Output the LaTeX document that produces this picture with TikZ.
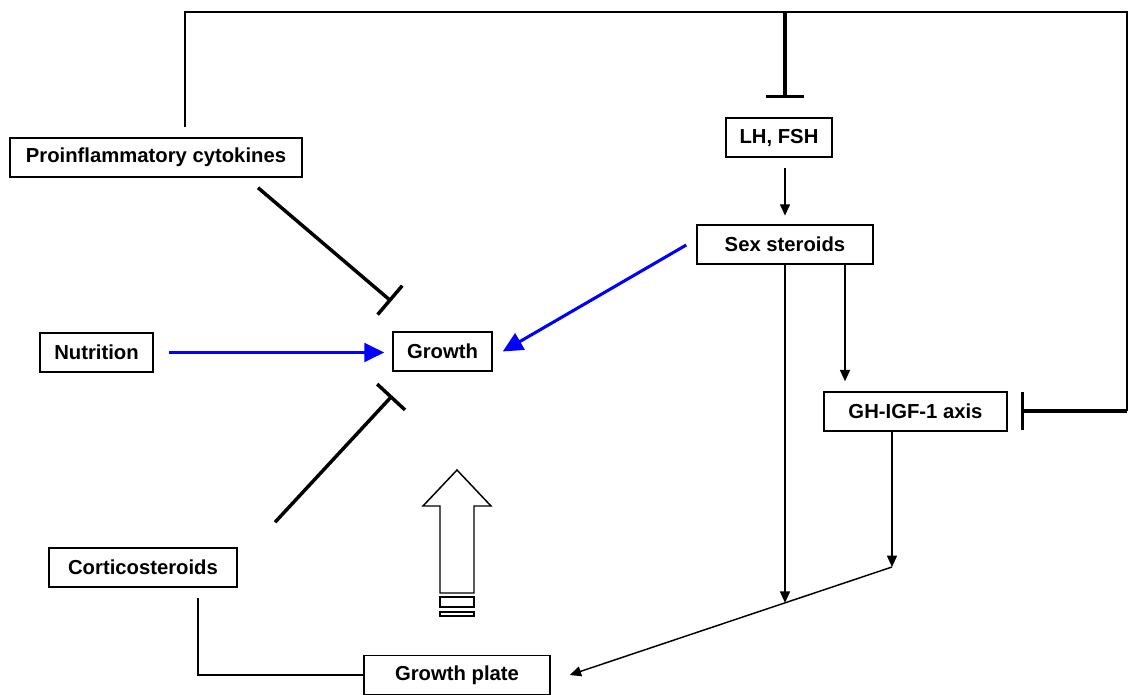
\documentclass[tikz,border=0pt]{standalone}
\usepackage{fontspec}
\setmainfont{Liberation Sans}
\usepackage{tikz}
\usetikzlibrary{shapes,arrows,arrows.meta,positioning,calc}
\usepackage{xcolor}
\definecolor{pureblue}{RGB}{0,0,255}
\tikzset{
    boxnode/.style={
        rectangle,
        draw,
        line width=1.1pt,
        minimum height=29.25pt,
        inner sep=2pt,
        font=\fontsize{15.2}{18}\selectfont\bfseries,
        text centered
    },
    signal/.style={
        line width=1.1pt,
        -{Triangle[length=8.5pt,width=7.5pt]}
    },
    plainline/.style={
        line width=1.1pt
    },
    inhibit/.style={
        line width=2.6pt,
        -{Bar[width=28.5pt]}
    },
    promote/.style={
        pureblue,
        line width=2.3pt,
        -{Triangle[length=15pt,width=14pt]}
    }
}
\begin{document}
\begin{tikzpicture}[x=0.75pt,y=-0.75pt]
    \useasboundingbox (0,0) rectangle (1132,695);
    % Boxes
    \node[boxnode,minimum width=219pt] (cyto) at (156,157.5) {Proinflammatory cytokines};
    \node[boxnode,minimum width=79.5pt] (lhfsh) at (779,137.5) {LH, FSH};
    \node[boxnode,minimum width=132pt] (sex) at (785,244.5) {Sex steroids};
    \node[boxnode,minimum width=84.75pt] (nutr) at (96.5,352.5) {Nutrition};
    \node[boxnode,minimum width=74.25pt] (growth) at (442.5,351.5) {Growth};
    \node[boxnode,minimum width=137.25pt] (ghigf) at (915.5,411.5) {GH-IGF-1 axis};
    \node[boxnode,minimum width=141pt] (cort) at (143,567.5) {Corticosteroids};
    \node[boxnode,minimum width=139.5pt] (plate) at (457,675) {Growth plate};

    % Feedback loop over the top
    \coordinate (topleft) at (185,12);
    \coordinate (topmid) at (785,12);
    \coordinate (topright) at (1127,12);
    \coordinate (rightturn) at (1127,411);
    \draw[plainline] ($(cyto.north -| topleft)+(0,-10)$) |- (topright) -- (rightturn);
    \draw[inhibit,shorten >=9.75pt] (rightturn) -- (rightturn -| ghigf.east);
    \draw[inhibit,shorten >=14.25pt] (topmid) -- (topmid |- lhfsh.north);

    % Axis
    \draw[signal,shorten <=7.5pt,shorten >=6.5pt] (sex.north |- lhfsh.south) -- (sex.north);
    \coordinate (merge) at (892,567);
    \coordinate (join) at (785,602.8);
    \coordinate (platein) at ($(plate.east)+(19,0)$);
    \draw[signal] (sex.south) -- (join);
    \draw[signal,shorten >=7.5pt] ($(sex.south)+(60,0)$) -- ($(ghigf.north)+(-70.5,0)$);
    \draw[signal] (ghigf.south -| merge) -- (merge);
    \draw[signal] (merge) -- (platein);

    % Effects on growth
    \draw[promote,shorten <=11.25pt,shorten >=6pt] (nutr.east) -- (nutr.east -| growth.west);
    \draw[promote] ($(sex.west)+(-10,0.5)$) -- ($(growth.east)+(10,0)$);
    \draw[inhibit] ($(cyto.south)+(102,10)$) -- ($(growth.north west)+(-1,-30)$);
    \draw[inhibit] ($(cort.north)+(132,-25)$) -- ($(growth.south west)+(0,24)$);
    \draw[plainline] ($(cort.south)+(55,10)$) |- (plate.west);

    % Hollow arrow
    \draw[line width=1.1pt] (440,593) -- (440,506) -- (423,506) -- (457,470)
        -- (491,506) -- (474,506) -- (474,593) -- cycle;
    \draw[line width=1.1pt] (440,597) rectangle (474,607);
    \draw[line width=1.1pt] (440,612) rectangle (474,616);
\end{tikzpicture}
\end{document}
